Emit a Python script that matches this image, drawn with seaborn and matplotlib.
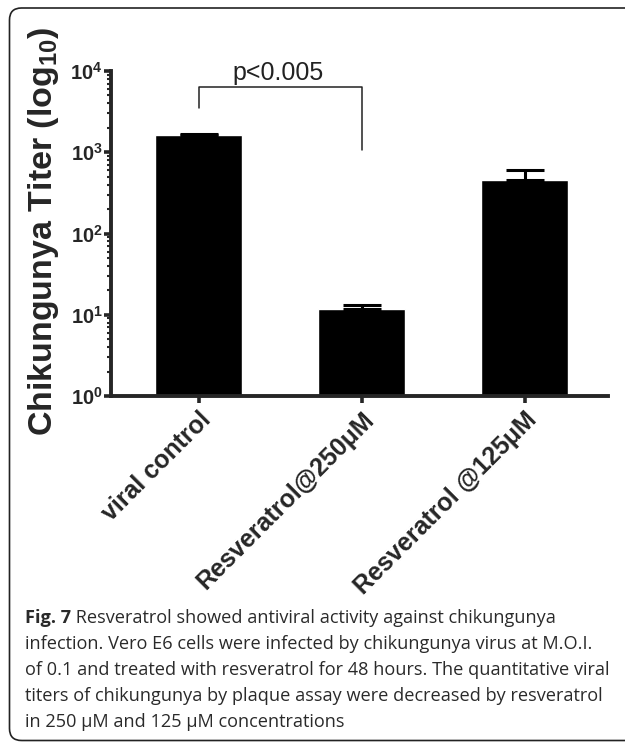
import numpy as np
import pandas as pd
import matplotlib
matplotlib.use('Agg')
import matplotlib.pyplot as plt
import seaborn as sns
from matplotlib.patches import FancyBboxPatch

# data
groups = ['viral control', 'Resveratrol@250μM', 'Resveratrol @125μM']
titer_mean = [1650, 11.8, 460]
titer_err = [50, 1.4, 140]
y_ticks = [1, 10, 100, 1000, 10000]
y_tick_labels = [r'$10^{0}$', r'$10^{1}$', r'$10^{2}$', r'$10^{3}$', r'$10^{4}$']
y_label = r'Chikungunya Titer (log$_{10}$)'
p_label = 'p<0.005'
caption_head = 'Fig. 7'
caption_lines = [' Resveratrol showed antiviral activity against chikungunya',
                 'infection. Vero E6 cells were infected by chikungunya virus at M.O.I.',
                 'of 0.1 and treated with resveratrol for 48 hours. The quantitative viral',
                 'titers of chikungunya by plaque assay were decreased by resveratrol',
                 'in 250 μM and 125 μM concentrations']


def draw_bars(ax):  # bars + upper error bars
    df = pd.DataFrame({'group': groups, 'titer': titer_mean})
    sns.barplot(data=df, x='group', y='titer', color='black', saturation=1, width=0.534,
                errorbar=None, ax=ax)
    x = np.arange(len(groups))
    ax.errorbar(x, titer_mean, yerr=[np.zeros(len(groups)), titer_err], fmt='none', ecolor='black',
                elinewidth=2.2, capsize=14, capthick=2.2)
    ax.set_yscale('log')
    ax.set_ylim(1, 1e4)
    ax.set_xlim(-0.537, 2.512)


def style_axes(ax):  # spines, ticks, labels
    sns.despine(ax=ax)
    for side in ['left', 'bottom']:
        ax.spines[side].set_linewidth(2.8)
    ax.set_yticks(y_ticks)
    ax.set_yticklabels(y_tick_labels, fontsize=14.5)
    ax.tick_params(axis='y', which='major', length=5, width=2.6, pad=1)
    ax.tick_params(axis='y', which='minor', length=3, width=1.5)
    ax.tick_params(axis='x', which='major', length=5, width=2.6, pad=3)
    ax.set_xlabel('')
    ax.set_ylabel(y_label, fontsize=24.5, fontweight='bold')
    ax.yaxis.set_label_coords(-0.1, 0.506)
    for lab in ax.get_xticklabels():
        lab.set_rotation(45)
        lab.set_ha('right')
        lab.set_va('top')
        lab.set_rotation_mode('anchor')
        lab.set_fontsize(18)
        lab.set_fontweight('bold')


def draw_bracket(ax):  # significance bracket between first two bars
    ax.plot([0, 0, 1, 1], [3500, 6350, 6350, 1070], color='#222222', lw=1.1, clip_on=False)
    ax.text(0.49, 7740, p_label, ha='center', va='baseline', fontsize=18, color='#222222')


def draw_caption(fig):  # caption text and the rounded frame
    y0 = 743 - 623
    size = 13.1
    head = fig.text(25 / 625, y0 / 743, caption_head, fontsize=size, fontweight='bold',
                    family='Open Sans', color='#2a2a2a', va='baseline')
    fig.canvas.draw()
    bb = head.get_window_extent()
    fig.text(bb.x1 / 625, y0 / 743, caption_lines[0], fontsize=size, family='Open Sans',
             color='#2a2a2a', va='baseline')
    for i, line in enumerate(caption_lines[1:], start=1):
        fig.text(25 / 625, (y0 - 26 * i) / 743, line, fontsize=size, family='Open Sans',
                 color='#2a2a2a', va='baseline')
    frame = FancyBboxPatch((0.095, 0.025), 6.4, 7.325, boxstyle='round,pad=0,rounding_size=0.12',
                           transform=fig.dpi_scale_trans, fill=False, lw=1.2, ec='#222222')
    fig.patches.append(frame)


def main():
    sns.set_style('ticks')
    plt.rcParams['font.family'] = ['Liberation Sans', 'DejaVu Sans']
    plt.rcParams['mathtext.fontset'] = 'custom'
    plt.rcParams['mathtext.rm'] = 'Liberation Sans:bold'
    plt.rcParams['mathtext.it'] = 'Liberation Sans:bold'
    plt.rcParams['mathtext.bf'] = 'Liberation Sans:bold'
    fig = plt.figure(figsize=(6.25, 7.43), dpi=100)
    ax = fig.add_axes([111 / 625, (743 - 396) / 743, 497 / 625, 325 / 743])
    draw_bars(ax)
    style_axes(ax)
    draw_bracket(ax)
    draw_caption(fig)
    fig.savefig('out.png', dpi=100)


if __name__ == '__main__':
    main()
